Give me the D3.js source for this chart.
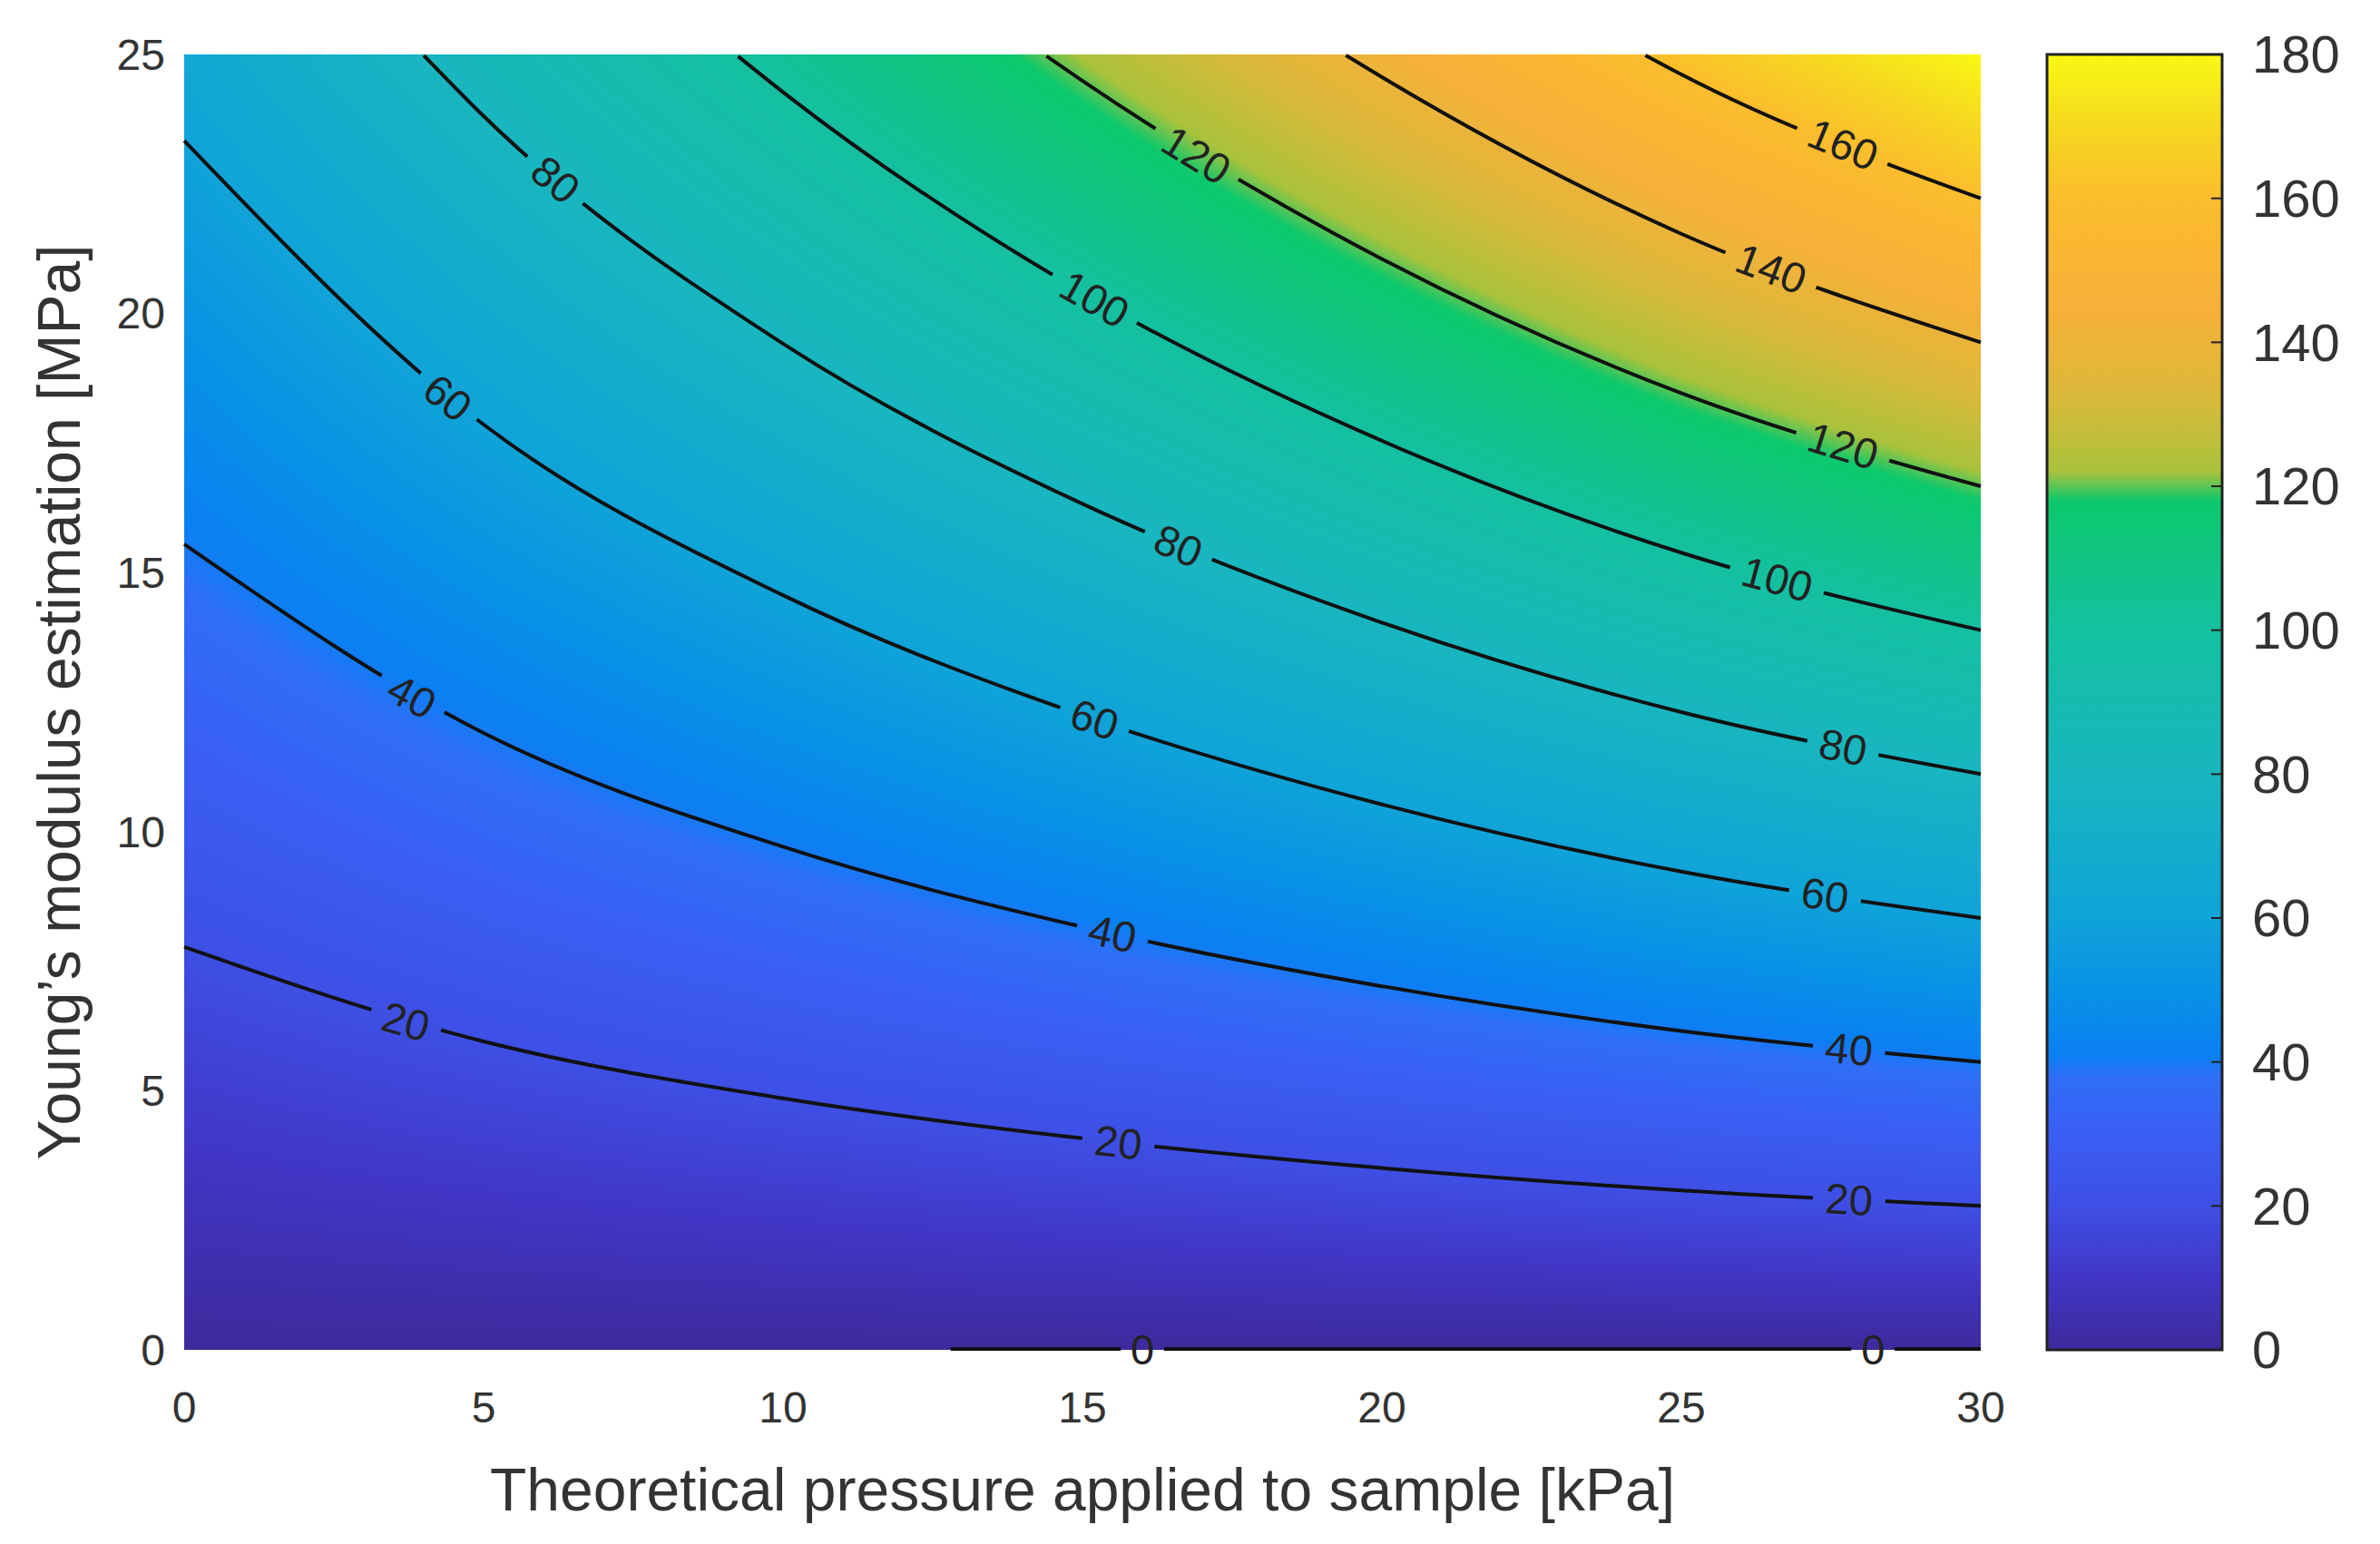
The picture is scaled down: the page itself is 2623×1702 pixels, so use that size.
<!DOCTYPE html>
<html><head><meta charset="utf-8">
<script src="https://cdn.jsdelivr.net/npm/d3@7"></script>
<style>body{margin:0;background:#fff}text{font-family:"Liberation Sans",Arial,sans-serif}</style>
</head><body>
<svg id="chart" width="2623" height="1702"></svg>
<script>
// grid: pressure columns, modulus rows
const pressures = [0, 5, 10, 15, 20, 25, 30];
const moduli = [0, 5, 10, 15, 20, 25];
const grid = [
  [0, 0, 0, 0, 0, 0, 0],
  [12.9, 16.8, 20.6, 24.5, 28.5, 32.5, 36],
  [25.7, 33.6, 41.2, 49, 57, 65, 72],
  [38.6, 50.4, 61.8, 73.5, 85.5, 97.5, 108],
  [51.4, 67.2, 82.4, 98, 114, 130, 144],
  [64.3, 84, 103, 122.5, 142.5, 162.5, 180]
];
const levels = [20, 40, 60, 80, 100, 120, 140, 160];
// where each level carries a label (pressure)
const labelAt = {
  20: [3.7, 15.6, 27.8], 40: [3.8, 15.5, 27.8], 60: [4.4, 15.2, 27.4], 80: [6.2, 16.6, 27.7],
  100: [15.2, 26.6], 120: [16.9, 27.7], 140: [26.5], 160: [27.7]
};
const xTicks = [0, 5, 10, 15, 20, 25, 30];
const yTicks = [0, 5, 10, 15, 20, 25];
const cbTicks = [0, 20, 40, 60, 80, 100, 120, 140, 160, 180];
const cmapVals = [0, 10, 20, 30, 38, 41, 50, 60, 80, 100, 118, 122, 132, 145, 160, 170, 180];
const cmapCols = ['#3e2a9c', '#4136c6', '#3e4fe4', '#3a5ef4', '#2f6ef8', '#0a80f2', '#0892e6', '#10a3d8',
  '#18b6bf', '#14c0a0', '#0dc86c', '#a9c23c', '#d9b93a', '#f8b03a', '#fbbd2d', '#f6d820', '#f9f814'];

const svg = d3.select('#chart');
const L = 203, R = 2183, T = 60, B = 1488;
const x = d3.scaleLinear().domain([0, 30]).range([L, R]);
const y = d3.scaleLinear().domain([0, 25]).range([B, T]);
const color = d3.scaleLinear().domain(cmapVals).range(cmapCols).clamp(true);

function column(p) {
  return grid.map(r => d3.scaleLinear().domain(pressures).range(r)(p));
}
function isoE(v, p) {
  const col = column(p);
  for (let i = 0; i < col.length - 1; i++) {
    if (v >= col[i] && v <= col[i + 1]) return moduli[i] + (v - col[i]) / (col[i + 1] - col[i]) * 5;
  }
  return null;
}

// background raster: colour lookup table, one column profile per pixel column
const lut = d3.range(0, 1801).map(i => d3.rgb(color(i / 10)));
const W = R - L, H = B - T;
const cv = document.createElement('canvas');
cv.width = W; cv.height = H;
const ctx = cv.getContext('2d');
const img = ctx.createImageData(W, H);
const rowE = d3.range(H).map(j => y.invert(T + j + 0.5));
for (let i = 0; i < W; i++) {
  const col = column(x.invert(L + i + 0.5));
  for (let j = 0; j < H; j++) {
    const e = rowE[j];
    const r = Math.min(4, Math.max(0, Math.floor(e / 5)));
    const f = col[r] + (col[r + 1] - col[r]) * (e / 5 - r);
    const c = lut[Math.max(0, Math.min(1800, Math.round(f * 10)))];
    const k = (j * W + i) * 4;
    img.data[k] = c.r; img.data[k + 1] = c.g; img.data[k + 2] = c.b; img.data[k + 3] = 255;
  }
}
ctx.putImageData(img, 0, 0);
svg.append('image').attr('x', L).attr('y', T).attr('width', W).attr('height', H)
  .attr('href', cv.toDataURL());

// contour lines: through grid columns, plus the point where a level leaves the top edge
const line = d3.line().x(d => x(d[0])).y(d => y(d[1])).curve(d3.curveMonotoneX);
const defs = svg.append('defs');
const mask = defs.append('mask').attr('id', 'gaps').attr('maskUnits', 'userSpaceOnUse')
  .attr('x', 0).attr('y', 0).attr('width', 2623).attr('height', 1702);
mask.append('rect').attr('x', 0).attr('y', 0).attr('width', 2623).attr('height', 1702).attr('fill', '#fff');
const lines = svg.append('g').attr('mask', 'url(#gaps)');
const labels = svg.append('g');

levels.forEach(v => {
  const start = d3.range(0, 30.01, 0.05).find(p => isoE(v, p) != null);
  const pts = [[start, isoE(v, start)]].concat(
    pressures.filter(p => p > start + 0.3).map(p => [p, isoE(v, p)]));
  lines.append('path').attr('d', line(pts)).attr('fill', 'none').attr('stroke', '#111').attr('stroke-width', 4);
  labelAt[v].forEach(p => {
    const e = isoE(v, p);
    if (e == null) return;
    const e1 = isoE(v, p - 0.3), e2 = isoE(v, p + 0.3);
    const ang = Math.atan2(y(e2 ?? e) - y(e1 ?? e), x(p + 0.3) - x(p - 0.3)) * 180 / Math.PI;
    const tf = `translate(${x(p)},${y(e)}) rotate(${ang})`;
    const wd = String(v).length * 27 + 26;
    mask.append('rect').attr('x', -wd / 2).attr('y', -28).attr('width', wd).attr('height', 56)
      .attr('transform', tf).attr('fill', '#000');
    labels.append('text').attr('transform', tf).attr('text-anchor', 'middle').attr('dy', '0.35em')
      .attr('font-size', 47).attr('fill', '#222').text(v);
  });
});

// zero line along bottom
lines.append('line').attr('x1', x(12.8)).attr('x2', x(30)).attr('y1', B - 1).attr('y2', B - 1)
  .attr('stroke', '#111').attr('stroke-width', 4);
[16, 28.2].forEach(p => {
  mask.append('rect').attr('x', x(p) - 24).attr('y', B - 28).attr('width', 48).attr('height', 56).attr('fill', '#000');
  labels.append('text').attr('x', x(p)).attr('y', B).attr('dy', '0.35em').attr('text-anchor', 'middle')
    .attr('font-size', 47).attr('fill', '#222').text(0);
});

// axis tick labels
svg.append('g').selectAll('text').data(xTicks).join('text')
  .attr('x', d => x(d)).attr('y', 1568).attr('text-anchor', 'middle')
  .attr('font-size', 48).attr('fill', '#333').text(d => d);
svg.append('g').selectAll('text').data(yTicks).join('text')
  .attr('x', 182).attr('y', d => y(d)).attr('dy', '0.35em').attr('text-anchor', 'end')
  .attr('font-size', 48).attr('fill', '#333').text(d => d);
svg.append('text').attr('x', (L + R) / 2).attr('y', 1665).attr('text-anchor', 'middle')
  .attr('font-size', 66).attr('fill', '#333').text('Theoretical pressure applied to sample [kPa]');
svg.append('text').attr('transform', `translate(88,${(T + B) / 2}) rotate(-90)`).attr('text-anchor', 'middle')
  .attr('font-size', 66).attr('fill', '#333').text('Young\u2019s modulus estimation [MPa]');

// colorbar
const cbL = 2256, cbR = 2449;
const cy = d3.scaleLinear().domain([0, 180]).range([B, T]);
const grad = defs.append('linearGradient').attr('id', 'cb')
  .attr('x1', 0).attr('x2', 0).attr('y1', 1).attr('y2', 0);
cmapVals.forEach((v, i) => grad.append('stop').attr('offset', v / 180).attr('stop-color', cmapCols[i]));
svg.append('rect').attr('x', cbL).attr('y', T).attr('width', cbR - cbL).attr('height', B - T)
  .attr('fill', 'url(#cb)').attr('stroke', '#222').attr('stroke-width', 3);
svg.append('g').selectAll('line').data(cbTicks).join('line')
  .attr('x1', cbR - 12).attr('x2', cbR).attr('y1', d => cy(d)).attr('y2', d => cy(d))
  .attr('stroke', '#222').attr('stroke-width', 2);
svg.append('g').selectAll('text').data(cbTicks).join('text')
  .attr('x', 2482).attr('y', d => cy(d)).attr('dy', '0.35em')
  .attr('font-size', 58).attr('fill', '#333').text(d => d);
</script>
</body></html>
